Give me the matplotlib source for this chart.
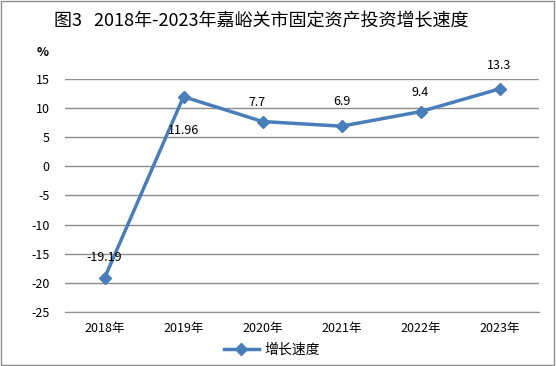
import matplotlib.pyplot as plt
from matplotlib.patches import Rectangle

plt.rcParams['font.family'] = ['Noto Sans CJK SC', 'DejaVu Sans']
plt.rcParams['axes.unicode_minus'] = False

years = ['2018年', '2019年', '2020年', '2021年', '2022年', '2023年']
growth = [-19.19, 11.96, 7.7, 6.9, 9.4, 13.3]
labels = ['-19.19', '11.96', '7.7', '6.9', '9.4', '13.3']
yticks = [15, 10, 5, 0, -5, -10, -15, -20, -25]

line_color = '#4a7ebb'

fig = plt.figure(figsize=(5.56, 3.66), dpi=100)
ax = fig.add_axes([65 / 556, 1 - 312 / 366, (539 - 65) / 556, (312 - 79) / 366])

x = list(range(len(years)))
ax.plot(x, growth, color=line_color, linewidth=2.5, marker='D', markersize=6,
        label='增长速度')

# data labels
offsets = [(0, 10), (0, -20), (-4, 9), (0, 13), (0, 9), (0, 12)]
for xi, yi, lab, (dx, dy) in zip(x, growth, labels, offsets):
    ax.annotate(lab, (xi, yi), xytext=(dx, dy), textcoords='offset points',
                ha='center', va='bottom' if dy > 0 else 'top', fontsize=9,
                color='black')

ax.set_xlim(-0.5, len(years) - 0.5)
ax.set_ylim(-25, 15)
ax.set_yticks(yticks)
ax.set_xticks(x)
ax.set_xticklabels(years, fontsize=9)
ax.tick_params(axis='y', labelsize=9, length=0, pad=11)
ax.tick_params(axis='x', length=0, pad=7)
ax.grid(axis='y', color='#8c8c8c', linewidth=1)
ax.set_axisbelow(True)
for s in ['top', 'right', 'left']:
    ax.spines[s].set_visible(False)
ax.spines['bottom'].set_color('#8c8c8c')

fig.text(43 / 556, 1 - 52 / 366, '%', fontsize=9, fontweight='bold',
         ha='center', va='center')
fig.text(261 / 556, 1 - 21 / 366, '图3   2018年-2023年嘉峪关市固定资产投资增长速度',
         fontsize=13, ha='center', va='center')

fig.legend(loc='center', bbox_to_anchor=(272 / 556, 1 - 350 / 366), frameon=False,
           fontsize=10, handlelength=2.5, handletextpad=0.4)

fig.patches.append(Rectangle((0.002, 0.003), 0.995, 0.994, transform=fig.transFigure,
                             fill=False, edgecolor='#8c8c8c', linewidth=1))

fig.savefig('out.png', dpi=100)
